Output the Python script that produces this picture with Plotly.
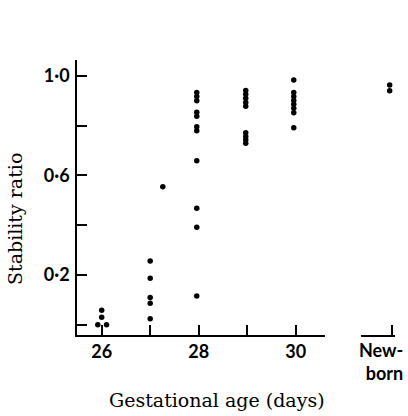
import plotly.graph_objects as go

# Data
day26 = [0.0, 0.0, 0.03, 0.058]
day26_x = [25.92, 26.1, 26.0, 26.0]
day27 = [0.256, 0.187, 0.109, 0.086, 0.024]
day27_extra_x = [27.26]
day27_extra = [0.555]
day28 = [0.933, 0.917, 0.900, 0.854, 0.838, 0.796, 0.780, 0.659, 0.468, 0.392, 0.115]
day29 = [0.941, 0.926, 0.910, 0.893, 0.878, 0.772, 0.757, 0.743, 0.729]
day30 = [0.984, 0.933, 0.917, 0.901, 0.886, 0.870, 0.852, 0.792]
newborn = [0.964, 0.940]

y_tickvals = [0.0, 0.2, 0.4, 0.6, 0.8, 1.0]
y_ticktext = ["", "0·2", "", "0·6", "", "1·0"]
x_tickvals = [26, 27, 28, 29, 30]
x_ticktext = ["26", "", "28", "", "30"]

xs = day26_x + [27.0] * len(day27) + day27_extra_x + [27.96] * len(day28) + [28.97] * len(day29) + [29.96] * len(day30)
ys = day26 + day27 + day27_extra + day28 + day29 + day30

fig = go.Figure()
marker = dict(color="black", size=5.5)
fig.add_trace(go.Scatter(x=xs, y=ys, mode="markers", marker=marker, xaxis="x", yaxis="y", showlegend=False))
fig.add_trace(go.Scatter(x=[31.95] * len(newborn), y=newborn, mode="markers", marker=marker,
                         xaxis="x2", yaxis="y", showlegend=False))

tickfont = dict(family="Lato", size=18, color="black", weight="bold")
serif = dict(family="DejaVu Serif", size=19, color="black")
L, R = 77, 398
W = R - L

def dom(p):
    return (p - L) / W

fig.update_layout(
    width=408, height=416,
    margin=dict(l=L, r=408 - R, t=60, b=81),
    paper_bgcolor="white", plot_bgcolor="white",
    xaxis=dict(domain=[0, dom(325)], range=[25.491, 30.604], showline=True, linecolor="black", linewidth=1.6,
               ticks="inside", ticklen=10, tickwidth=1.5, tickcolor="black",
               tickvals=x_tickvals, ticktext=x_ticktext, tickfont=tickfont,
               showgrid=False, zeroline=False, anchor="y"),
    xaxis2=dict(domain=[dom(361), dom(395)], range=[31.36, 32.06], showline=True, linecolor="black", linewidth=1.6,
                ticks="inside", ticklen=10, tickwidth=1.5, tickcolor="black",
                tickvals=[32], ticktext=[""], showgrid=False, zeroline=False, anchor="y"),
    yaxis=dict(range=[-0.0414, 1.064], showline=True, linecolor="black", linewidth=1.6,
               ticks="inside", ticklen=10, tickwidth=1.5, tickcolor="black",
               tickvals=y_tickvals, ticktext=y_ticktext, tickfont=tickfont, ticklabelstandoff=2,
               showgrid=False, zeroline=False),
    annotations=[
        dict(text="Stability ratio", xref="paper", yref="paper", x=(15 - L) / W, y=(335 - 219) / 275,
             textangle=-90, showarrow=False, xanchor="center", yanchor="middle", font=serif),
        dict(text="Gestational age (days)", xref="paper", yref="paper", x=(217 - L) / W, y=(335 - 400) / 275,
             showarrow=False, xanchor="center", yanchor="middle", font=serif),
        dict(text="New-<br>born", xref="paper", yref="paper", x=(381 - L) / W, y=(335 - 337) / 275,
             showarrow=False, xanchor="center", yanchor="top", align="right",
             font=dict(family="Lato", size=18, color="black", weight="bold")),
    ],
)

fig.write_html("out.html")
